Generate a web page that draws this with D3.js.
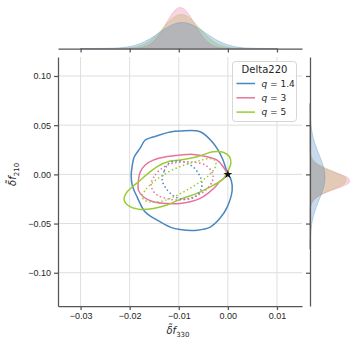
<!DOCTYPE html>
<html>
<head>
<meta charset="utf-8">
<script src="https://cdn.jsdelivr.net/npm/d3@7"></script>
<style>
body { margin: 0; background: #fff; }
svg { font-family: "DejaVu Sans", sans-serif; }
.axis text { fill: #262626; font-size: 9px; }
.axis line, .axis path { stroke: #555; stroke-width: 1.25; }
</style>
</head>
<body>
<script>
// legend entries
var qValues = ["1.4", "3", "5"];
var seriesColors = ["#4a86c0", "#e8739f", "#9acd32"];

var xTicks = [-0.03, -0.02, -0.01, 0.00, 0.01];
var yTicks = [-0.10, -0.05, 0.00, 0.05, 0.10];

// outer (solid) contours, [df330, df210]
var blueOuter = [[-0.01684,0.0349],[-0.01521,0.0379],[-0.01175,0.0430],[-0.00971,0.0440],[-0.00564,0.0433],[-0.00299,0.0318],
  [-0.00116,0.0166],[-0.00014,0.0023],[0.00067,-0.0058],[0.00088,-0.0159],[-0.00014,-0.0333],[-0.00157,-0.0444],
  [-0.00360,-0.0536],[-0.00625,-0.0567],[-0.00971,-0.0561],[-0.01175,-0.0536],[-0.01440,-0.0465],[-0.01684,-0.0383],
  [-0.01847,-0.0231],[-0.01949,-0.0109],[-0.01969,-0.0007],[-0.01949,0.0085],[-0.01908,0.0176],[-0.01786,0.0267]];
var pinkOuter = [[-0.01821,-0.0058],[-0.01786,0.0023],[-0.01684,0.0095],[-0.01521,0.0145],[-0.01236,0.0181],[-0.00971,0.0196],
  [-0.00707,0.0203],[-0.00422,0.0179],[-0.00218,0.0145],[-0.00096,0.0077],[-0.00024,0.0013],[-0.00075,-0.0038],
  [-0.00157,-0.0068],[-0.00259,-0.0129],[-0.00401,-0.0190],[-0.00564,-0.0244],[-0.00768,-0.0278],[-0.00971,-0.0295],
  [-0.01236,-0.0297],[-0.01521,-0.0278],[-0.01725,-0.0228],[-0.01821,-0.0160]];
var greenOuter = [[-0.02112,-0.0261],[-0.02071,-0.0190],[-0.01949,-0.0129],[-0.01821,-0.0075],[-0.01650,0.0000],[-0.01446,0.0077],
  [-0.01175,0.0135],[-0.00971,0.0145],[-0.00625,0.0179],[-0.00299,0.0230],[-0.00096,0.0224],[0.00033,0.0179],
  [0.00061,0.0112],[0.00012,0.0044],[-0.00055,-0.0017],[-0.00122,-0.0058],[-0.00293,-0.0109],[-0.00631,-0.0193],
  [-0.00971,-0.0254],[-0.01242,-0.0312],[-0.01515,-0.0346],[-0.01786,-0.0356],[-0.01990,-0.0329]];

// inner (dotted) contours
var blueInner = [[-0.01338,-0.0058],[-0.01297,0.0034],[-0.01216,0.0105],[-0.01073,0.0135],[-0.00890,0.0125],[-0.00727,0.0084],
  [-0.00605,0.0013],[-0.00534,-0.0068],[-0.00544,-0.0149],[-0.00646,-0.0221],[-0.00809,-0.0251],[-0.00992,-0.0246],
  [-0.01155,-0.0200],[-0.01277,-0.0129]];
var pinkInner = [[-0.01562,-0.0088],[-0.01481,-0.0007],[-0.01338,0.0064],[-0.01175,0.0105],[-0.00971,0.0125],[-0.00707,0.0125],
  [-0.00462,0.0095],[-0.00330,0.0028],[-0.00299,-0.0038],[-0.00360,-0.0109],[-0.00503,-0.0180],[-0.00707,-0.0231],
  [-0.00971,-0.0261],[-0.01236,-0.0246],[-0.01440,-0.0210],[-0.01542,-0.0149]];
var greenInner = [[-0.01745,-0.0221],[-0.01664,-0.0149],[-0.01542,-0.0088],[-0.01379,-0.0027],[-0.01175,0.0034],[-0.00971,0.0079],
  [-0.00768,0.0115],[-0.00564,0.0140],[-0.00381,0.0161],[-0.00259,0.0140],[-0.00248,0.0084],[-0.00340,0.0013],
  [-0.00483,-0.0048],[-0.00666,-0.0109],[-0.00870,-0.0170],[-0.01114,-0.0231],[-0.01338,-0.0272],[-0.01562,-0.0282],
  [-0.01705,-0.0261]];

var truePoint = [0.0, 0.0];

// top marginal: density heights along df330
var topGrid = [-0.030,-0.029,-0.028,-0.027,-0.026,-0.025,-0.024,-0.023,-0.022,-0.021,-0.020,-0.019,-0.018,-0.017,-0.016,
  -0.015,-0.014,-0.013,-0.012,-0.011,-0.010,-0.009,-0.008,-0.007,-0.006,-0.005,-0.004,-0.003,-0.002,-0.001,
  0.000,0.001,0.002,0.003,0.004,0.005,0.006,0.007,0.008,0.009,0.010];
var topBlue = [0.00,0.00,0.01,0.02,0.05,0.10,0.20,0.37,0.68,1.17,1.95,3.09,4.69,6.79,9.41,12.46,15.77,19.07,22.05,24.35,
  25.71,25.95,25.02,23.07,20.32,17.11,13.77,10.59,7.78,5.47,3.67,2.36,1.45,0.85,0.47,0.25,0.13,0.06,0.03,0.01,0.00];
var topPink = [0,0,0,0,0,0,0,0,0.01,0.02,0.08,0.24,0.68,1.73,3.87,7.72,13.66,21.46,29.93,37.08,
  40.78,39.82,34.53,26.58,18.17,11.03,5.94,2.84,1.21,0.46,0.15,0.05,0.01,0,0,0,0,0,0,0,0];
var topGreen = [0,0,0,0,0,0.01,0.02,0.04,0.11,0.27,0.61,1.26,2.43,4.36,7.27,11.27,16.23,21.74,27.06,31.32,
  33.69,33.69,31.32,27.06,21.74,16.23,11.27,7.27,4.36,2.43,1.26,0.61,0.27,0.11,0.04,0.02,0.01,0,0,0,0];

// right marginal: density heights along df210
var rightGrid = [-0.076,-0.072,-0.068,-0.064,-0.060,-0.056,-0.052,-0.048,-0.044,-0.040,-0.036,-0.032,-0.028,-0.024,
  -0.020,-0.016,-0.012,-0.008,-0.004,0.000,0.004,0.008,0.012,0.016,0.020,0.024,0.028,0.032,0.036,0.040,
  0.044,0.048,0.052,0.056,0.060,0.064,0.068,0.072];
var rightBlue = [0.10,0.17,0.28,0.45,0.70,1.05,1.55,2.21,3.06,4.11,5.36,6.77,8.31,9.89,11.42,12.79,13.89,14.65,14.99,
  14.87,14.32,13.38,12.13,10.66,9.10,7.53,6.05,4.71,3.56,2.61,1.86,1.28,0.86,0.56,0.35,0.22,0.13,0.07];
var rightPink = [0,0,0,0,0,0,0,0,0,0.03,0.15,0.60,2.02,5.54,12.33,22.34,32.90,39.42,38.42,
  30.45,19.63,10.30,4.39,1.52,0.43,0.10,0.02,0,0,0,0,0,0,0,0,0,0,0];
var rightGreen = [0,0,0,0,0,0,0,0,0,0.06,0.25,0.86,2.50,6.06,12.32,20.98,29.90,35.70,35.70,
  29.90,20.98,12.32,6.06,2.50,0.86,0.25,0.06,0.01,0,0,0,0,0,0,0,0,0,0];

var W = 358, H = 345;
var plot = {left: 58, right: 302, top: 57, bottom: 306};
var topBase = 48.5, rightBase = 310;

var svg = d3.select("body").append("svg")
    .attr("width", W)
    .attr("height", H);

var xScale = d3.scaleLinear().domain([-0.0346, 0.0151]).range([plot.left, plot.right]);
var yScale = d3.scaleLinear().domain([-0.1338, 0.1193]).range([plot.bottom, plot.top]);
var topScale = d3.scaleLinear().domain([0, 48]).range([topBase, topBase - 48]);
var rightScale = d3.scaleLinear().domain([0, 48]).range([rightBase, rightBase + 48]);

// gridlines
svg.append("g").selectAll("line").data(xTicks).enter().append("line")
    .attr("x1", d => xScale(d)).attr("x2", d => xScale(d))
    .attr("y1", plot.top).attr("y2", plot.bottom)
    .attr("stroke", "#dedede").attr("stroke-width", 1);
svg.append("g").selectAll("line").data(yTicks).enter().append("line")
    .attr("x1", plot.left).attr("x2", plot.right)
    .attr("y1", d => yScale(d)).attr("y2", d => yScale(d))
    .attr("stroke", "#dedede").attr("stroke-width", 1);

// marginal densities, last hue drawn first so q=1.4 ends up on top
var topSeries = [topBlue, topPink, topGreen];
var rightSeries = [rightBlue, rightPink, rightGreen];

var topArea = d3.area()
    .x(d => xScale(d[0]))
    .y0(topScale(0))
    .y1(d => topScale(d[1]))
    .curve(d3.curveCatmullRom);
var rightArea = d3.area()
    .y(d => yScale(d[0]))
    .x0(rightScale(0))
    .x1(d => rightScale(d[1]))
    .curve(d3.curveCatmullRom);

[2, 1, 0].forEach(function(i) {
    svg.append("path")
        .datum(topGrid.map((v, j) => [v, topSeries[i][j]]))
        .attr("d", topArea)
        .attr("fill", seriesColors[i]).attr("fill-opacity", 0.3)
        .attr("stroke", seriesColors[i]).attr("stroke-opacity", 0.3).attr("stroke-width", 1);
    svg.append("path")
        .datum(rightGrid.map((v, j) => [v, rightSeries[i][j]]))
        .attr("d", rightArea)
        .attr("fill", seriesColors[i]).attr("fill-opacity", 0.3)
        .attr("stroke", seriesColors[i]).attr("stroke-opacity", 0.3).attr("stroke-width", 1);
});

// contours
var contourLine = d3.line()
    .x(d => xScale(d[0]))
    .y(d => yScale(d[1]))
    .curve(d3.curveCatmullRomClosed);

var outer = [blueOuter, pinkOuter, greenOuter];
var inner = [blueInner, pinkInner, greenInner];
outer.forEach(function(c, i) {
    svg.append("path").datum(c).attr("d", contourLine)
        .attr("fill", "none").attr("stroke", seriesColors[i]).attr("stroke-width", 1.5);
});
inner.forEach(function(c, i) {
    svg.append("path").datum(c).attr("d", contourLine)
        .attr("fill", "none").attr("stroke", seriesColors[i]).attr("stroke-width", 1.5)
        .attr("stroke-dasharray", "1.5,2.5");
});

svg.append("path")
    .attr("d", d3.symbol(d3.symbolStar).size(24))
    .attr("transform", "translate(" + xScale(truePoint[0]) + "," + yScale(truePoint[1]) + ")")
    .attr("fill", "#111");

// axes
var fmt = d3.format(".2f");
svg.append("g").attr("class", "axis")
    .attr("transform", "translate(0," + plot.bottom + ")")
    .call(d3.axisBottom(xScale).tickValues(xTicks).tickFormat(fmt).tickSize(4).tickSizeOuter(0).tickPadding(3));
svg.append("g").attr("class", "axis")
    .attr("transform", "translate(" + plot.left + ",0)")
    .call(d3.axisLeft(yScale).tickValues(yTicks).tickFormat(fmt).tickSize(4).tickSizeOuter(0).tickPadding(3));
// marginal axes: no labels
svg.append("g").attr("class", "axis")
    .attr("transform", "translate(0," + topBase + ")")
    .call(d3.axisBottom(xScale).tickValues(xTicks).tickFormat("").tickSize(4).tickSizeOuter(0));
svg.append("g").attr("class", "axis")
    .attr("transform", "translate(" + rightBase + ",0)")
    .call(d3.axisLeft(yScale).tickValues(yTicks).tickFormat("").tickSize(4).tickSizeOuter(0));

// axis labels
function mathLabel(g, sub) {
    g.append("tspan").attr("font-style", "italic").text("\u03b4\u0303");
    g.append("tspan").attr("font-style", "italic").text("f");
    g.append("tspan").attr("font-size", "7px").attr("dy", 2.5).text(sub);
}
var xl = svg.append("text")
    .attr("x", (plot.left + plot.right) / 2 - 2).attr("y", 334)
    .attr("text-anchor", "middle").attr("font-size", "10px").attr("fill", "#262626");
mathLabel(xl, "330");
var yl = svg.append("text")
    .attr("transform", "translate(16," + yScale(0) + ") rotate(-90)")
    .attr("text-anchor", "middle").attr("font-size", "10px").attr("fill", "#262626");
mathLabel(yl, "210");

// legend
var legend = svg.append("g").attr("transform", "translate(232.5,61.5)");
legend.append("rect")
    .attr("width", 64).attr("height", 60).attr("rx", 3)
    .attr("fill", "#fff").attr("fill-opacity", 0.85)
    .attr("stroke", "#d6d6d6").attr("stroke-width", 1);
legend.append("text")
    .attr("x", 32).attr("y", 11.5)
    .attr("text-anchor", "middle").attr("font-size", "10px").attr("fill", "#262626")
    .text("Delta220");
var items = legend.selectAll(".item").data(qValues).enter().append("g")
    .attr("class", "item")
    .attr("transform", (d, i) => "translate(0," + (22 + i * 14.3) + ")");
items.append("line")
    .attr("x1", 4).attr("x2", 22.5)
    .attr("stroke", (d, i) => seriesColors[i]).attr("stroke-width", 1.5);
var lt = items.append("text")
    .attr("x", 29).attr("y", 3.3)
    .attr("font-size", "9px").attr("fill", "#262626");
lt.append("tspan").attr("font-style", "italic").text("q");
lt.append("tspan").text(d => " = " + d);
</script>
</body>
</html>
